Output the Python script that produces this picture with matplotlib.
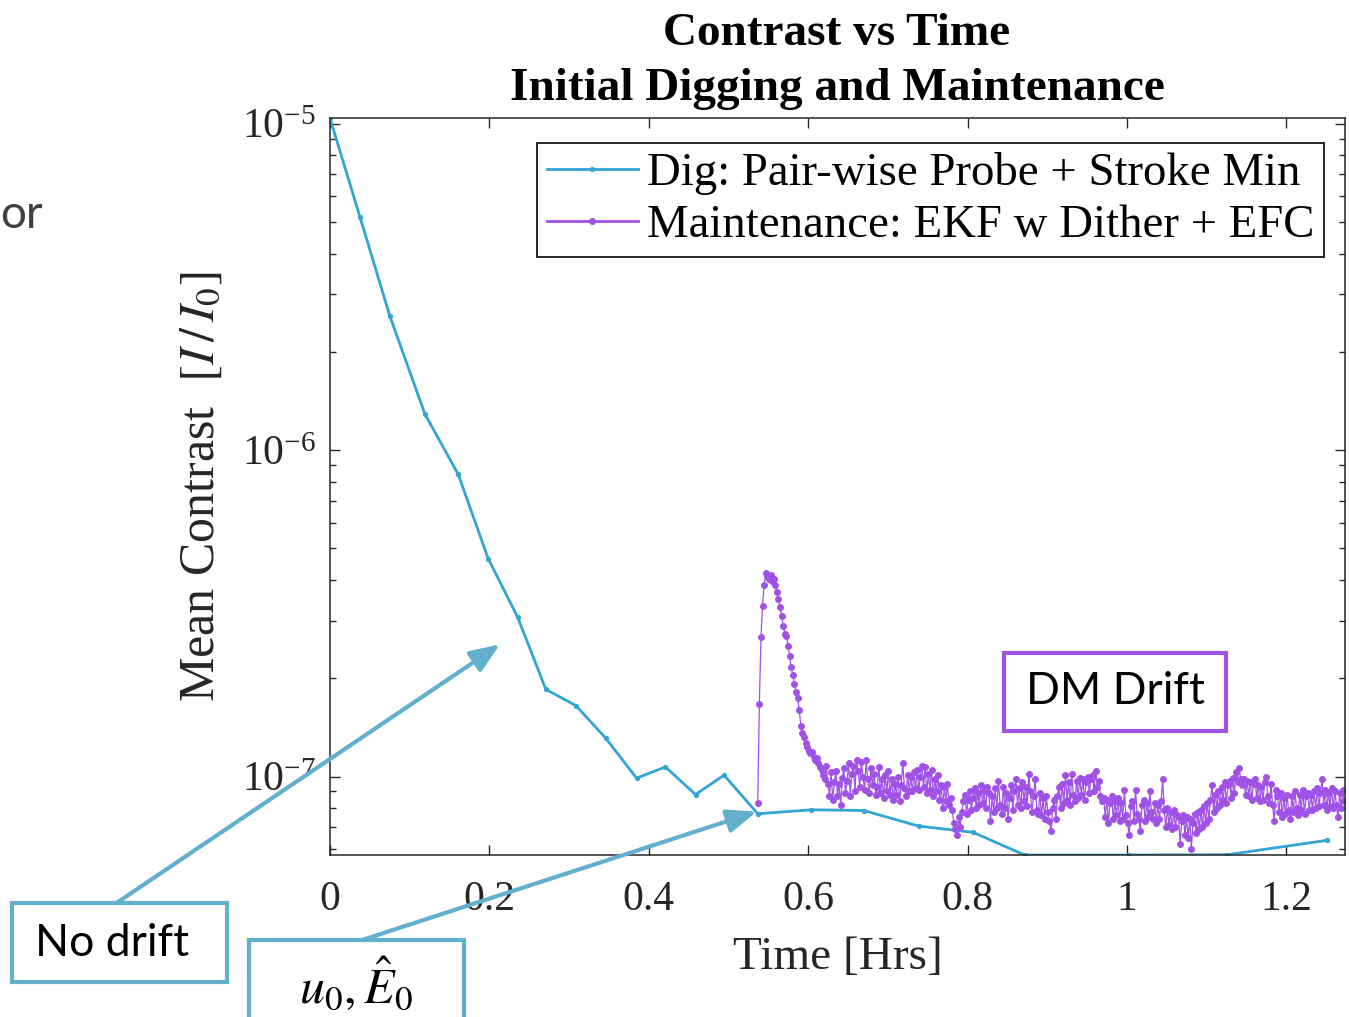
import matplotlib
matplotlib.use('Agg')
import matplotlib.pyplot as plt
import numpy as np
from matplotlib.patches import Rectangle
from matplotlib.ticker import LogLocator, NullFormatter

plt.rcParams['font.family'] = ['Liberation Serif', 'DejaVu Serif']
plt.rcParams['mathtext.fontset'] = 'stix'

# Digging phase (pair-wise probe + stroke min)
dig_time = [0, 0.0376, 0.0752, 0.1191, 0.1609, 0.1985, 0.2354, 0.2708, 0.3085,
            0.3461, 0.3846, 0.4209, 0.4586, 0.4944, 0.5367, 0.6040, 0.6696,
            0.7386, 0.8066, 0.8715, 1.0031, 1.1260, 1.2514]
dig_contrast = [1.04e-5, 5.18e-6, 2.57e-6, 1.29e-6, 8.43e-7, 4.65e-7, 3.08e-7,
                1.85e-7, 1.65e-7, 1.31e-7, 9.89e-8, 1.07e-7, 8.81e-8, 1.01e-7,
                7.69e-8, 7.91e-8, 7.87e-8, 7.05e-8, 6.75e-8, 5.75e-8, 5.75e-8,
                5.76e-8, 6.38e-8]

# Maintenance phase (EKF w dither + EFC), contrast in units of 1e-8
maint_start = 0.5367
maint_step = 0.002
maint_contrast_e8 = [
    8.3, 16.7, 26.7, 33.4, 38.5, 42.1, 41.3, 40.4, 41.5, 39.8,
    40.2, 38.6, 36.8, 35.0, 33.0, 31.0, 29.0, 27.4, 26.9, 25.2,
    23.4, 21.6, 20.4, 19.2, 18.2, 17.4, 16.0, 14.3, 13.6, 13.2,
    12.7, 12.3, 12.0, 11.8, 11.9, 11.5, 11.2, 11.4, 11.0, 10.7,
    10.5, 10.1, 9.8, 10.8, 9.5, 8.7,
    10.3, 8.5, 9.6, 10.4, 8.7, 9.5, 8.2, 9.9,
    10.6, 8.9, 9.7, 11.0, 8.7, 10.2, 10.8, 9.0, 11.2, 10.4, 9.3, 11.1, 10.0, 9.1, 11.2, 9.8, 8.9, 10.6, 9.4,
    10.2, 8.8, 9.3, 10.7, 8.9, 9.8, 8.6, 10.1, 9.0, 10.4, 8.8,
    9.8, 8.5, 9.5, 8.8, 10.0, 8.4, 9.4, 11.0, 9.2, 8.7, 10.1, 9.0,
    10.0, 9.0, 10.3, 9.2, 10.5, 9.1, 10.0, 10.8, 9.3, 10.7, 8.9, 10.2, 9.1, 10.5, 8.7, 9.8, 9.0, 10.1, 8.5, 9.4, 8.0,
    9.3, 8.4, 9.5, 8.2, 8.6,
    7.9, 7.2, 6.9, 6.6, 7.5, 7.0, 7.8,
    8.4, 8.8, 7.7, 8.5, 9.0, 7.9, 8.6, 9.2, 8.0, 8.9, 8.2, 9.4, 8.3, 9.0, 8.0, 9.3,
    8.9, 7.3, 8.7, 7.8, 9.2, 8.0, 9.7, 8.2, 7.7, 9.3, 8.0, 8.9, 7.4, 8.6, 9.4, 7.9, 9.0, 9.8, 8.2, 9.2, 8.0, 9.6, 8.4, 9.3, 8.1, 10.2,
    9.0, 7.8, 8.7, 9.8, 7.9, 7.7, 8.9, 7.6, 8.6, 7.4, 8.7, 7.8, 7.3, 6.8, 8.0, 8.5, 7.4,
    8.7, 9.3, 8.0, 9.5, 8.3, 10.1, 8.5, 9.6, 8.2, 10.2, 8.8, 8.4, 9.7, 8.6, 9.9, 8.8, 9.8, 8.5, 9.6, 10.0, 8.9,
    9.8, 10.1, 9.0, 10.4, 9.3, 9.7, 8.7, 8.4,
    8.6, 7.5, 8.5, 7.2, 8.3, 8.7, 7.4, 8.4, 7.6, 8.6, 7.3,
    8.3, 7.4, 9.1, 7.6, 7.2, 6.6, 8.1, 8.4, 7.3, 9.1, 7.7, 7.4, 6.8, 8.2, 8.5, 7.3, 8.3, 7.5, 9.0, 7.8, 7.4, 8.3, 7.2, 8.2, 7.4,
    8.4, 9.8,
    7.9, 7.0, 8.0, 7.1, 7.8, 6.9, 7.9, 7.0, 7.6,
    7.5, 6.2, 7.3, 7.6, 6.6, 7.5, 6.5, 7.4, 6.0, 7.2, 7.7, 6.7, 7.8, 6.9,
    7.9, 7.0, 8.1, 7.2, 8.3, 7.4, 8.5, 9.4, 7.8, 8.8, 8.0,
    9.0, 8.2, 9.3, 8.5, 9.6, 8.3, 9.4, 9.7, 8.6, 9.9, 8.9, 10.3,
    9.6, 10.6, 9.8, 9.4,
    9.8, 8.8, 9.7, 8.7, 9.6, 8.5, 9.5, 9.8, 8.6,
    9.4, 8.4, 9.3, 8.5, 9.6, 10.0, 8.7, 8.3, 9.5, 8.2, 7.3, 9.1,
    8.7, 7.8, 8.9, 7.5, 8.6, 7.7, 8.8, 7.9, 7.4, 8.7, 7.8, 9.0, 8.0, 7.6, 8.8, 7.9, 9.1, 7.7, 8.7, 8.9, 7.9,
    8.8, 7.9, 9.0, 8.0, 9.2, 8.1, 8.9, 9.8, 8.2, 9.1, 7.9, 8.9, 8.1, 9.2, 8.0, 9.0, 8.2, 7.5, 8.9, 8.0, 9.1, 8.4,
]

x_ticks = [0, 0.2, 0.4, 0.6, 0.8, 1, 1.2]
x_tick_labels = ['0', '0.2', '0.4', '0.6', '0.8', '1', '1.2']
y_ticks = [1e-7, 1e-6, 1e-5]
y_tick_labels = [r'$\mathregular{10^{-7}}$', r'$\mathregular{10^{-6}}$', r'$\mathregular{10^{-5}}$']

maint_contrast = np.array(maint_contrast_e8) * 1e-8
maint_time = maint_start + maint_step * np.arange(len(maint_contrast))

blue = '#33A5D2'
purple = '#A052E6'
arrow_blue = '#62B0CE'
ink = '#262626'

W, H = 1349, 1017
fig = plt.figure(figsize=(W / 100, H / 100), dpi=100)
ax = fig.add_axes([330 / W, 1 - 855 / H, 1015 / W, 737.5 / H])

ax.plot(dig_time, dig_contrast, color=blue, lw=2.0, marker='o', ms=2.8,
        label='Dig: Pair-wise Probe + Stroke Min')
ax.plot(maint_time, maint_contrast, color=purple, lw=0.9, marker='o', ms=4.0,
        label='Maintenance: EKF w Dither + EFC')

ax.set_yscale('log')
ax.set_xlim(0, 1.2735)
ax.set_ylim(5.75e-8, 1.045e-5)

ax.set_xticks(x_ticks)
ax.set_xticklabels(x_tick_labels)
ax.set_yticks(y_ticks)
ax.set_yticklabels(y_tick_labels)
ax.yaxis.set_minor_locator(LogLocator(base=10, subs=np.arange(2, 10)))
ax.yaxis.set_minor_formatter(NullFormatter())
ax.tick_params(which='both', direction='in', top=True, right=True, colors=ink, width=1.0)
ax.tick_params(which='major', length=7, labelsize=30)
ax.tick_params(which='minor', length=4)
ax.tick_params(axis='x', pad=18)
ax.tick_params(axis='y', pad=10)
for s in ax.spines.values():
    s.set_color(ink)
    s.set_linewidth(1.1)

ax.set_xlabel('Time [Hrs]', fontsize=34, color=ink, va='top')
ax.xaxis.set_label_coords(0.5, -0.111)
ax.set_ylabel(r'Mean Contrast  $[I\,/\,I_0]$', fontsize=36, color=ink)
ax.yaxis.set_label_coords(-0.104, 0.5)

leg = ax.legend(loc='upper right', bbox_to_anchor=((1324 - 330) / 1015, 1 - (143 - 117.5) / 737.5),
                borderaxespad=0, fontsize=33.7, numpoints=1, fancybox=False, framealpha=1,
                edgecolor='black', handlelength=1.95, handletextpad=0.2, borderpad=0.2,
                labelspacing=0.2)
leg.get_frame().set_linewidth(1.2)
for h in leg.get_lines():
    h.set_linewidth(2.0)

fig.text(837 / W, 1 - 34 / H, 'Contrast vs Time', ha='center', va='center',
         fontsize=34, fontweight='bold', color='black')
fig.text(837 / W, 1 - 89 / H, 'Initial Digging and Maintenance', ha='center', va='center',
         fontsize=34, fontweight='bold', color='black')

# slide fragment at left edge
fig.text(0, 1 - 215 / H, 'or', ha='left', va='center', fontsize=33,
         family=['Lato', 'DejaVu Sans'], color='#404040')


def px_box(x0, y0, x1, y1, color):
    fig.add_artist(Rectangle((x0 / W, 1 - y1 / H), (x1 - x0) / W, (y1 - y0) / H,
                             transform=fig.transFigure, facecolor='white',
                             edgecolor=color, lw=3, zorder=10))


arrow_props = dict(arrowstyle='-|>,head_length=1.0,head_width=0.4', color=arrow_blue,
                   lw=3, shrinkA=0, shrinkB=0, mutation_scale=18)
ax.annotate('', xy=(0.2132, 2.54e-7), xycoords='data', xytext=(118, H - 902),
            textcoords='figure pixels', arrowprops=arrow_props, annotation_clip=False, zorder=9)
ax.annotate('', xy=(0.5354, 7.81e-8), xycoords='data', xytext=(356, H - 942),
            textcoords='figure pixels', arrowprops=arrow_props, annotation_clip=False, zorder=9)

px_box(12, 903, 227, 982, arrow_blue)
fig.text(112 / W, 1 - 943 / H, 'No drift', ha='center', va='center', fontsize=32,
         family=['Lato', 'DejaVu Sans'], color='black', zorder=11)

px_box(249, 940, 464, 1030, arrow_blue)
fig.text(356 / W, 1 - 986 / H, r'$u_0, \hat{E}_0$', ha='center', va='center', fontsize=36,
         color='black', zorder=11)

px_box(1004, 653, 1226, 731, purple)
fig.text(1115 / W, 1 - 692 / H, 'DM Drift', ha='center', va='center', fontsize=32,
         family=['Lato', 'DejaVu Sans'], color='black', zorder=11)

fig.savefig('out.png', dpi=100)
